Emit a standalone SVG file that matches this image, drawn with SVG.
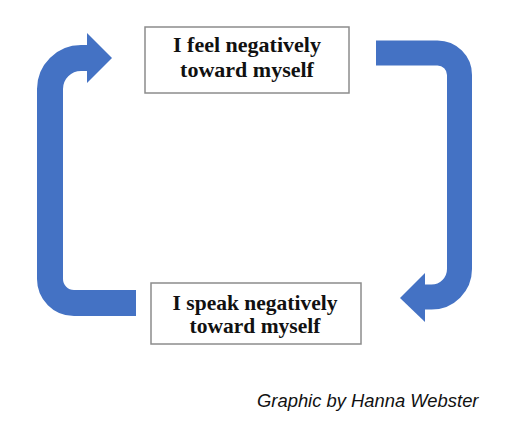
<svg xmlns="http://www.w3.org/2000/svg" width="516" height="426" viewBox="0 0 516 426">
<style>
.shaft{fill:none;stroke:#4472C4;stroke-width:26;stroke-linecap:butt;stroke-linejoin:miter}
.head{fill:#4472C4}
.box{fill:#ffffff;stroke:#8c8c8c;stroke-width:1.5}
.lbl{font-family:"Liberation Serif","Times New Roman",serif;font-weight:bold;fill:#111;text-anchor:middle}
.cap{font-family:"Liberation Sans",Arial,sans-serif;font-style:italic;font-size:18.4px;fill:#111}
</style>
<rect width="516" height="426" fill="#ffffff"/>
<g id="connectors">
  <g id="arrow-left">
    <path class="shaft" d="M136,303 H74 A24,24 0 0 1 50,279 V89 A31,31 0 0 1 81,58 H88"/>
    <polygon class="head" points="87,33 112,58 87,83"/>
  </g>
  <g id="arrow-right">
    <path class="shaft" style="stroke-width:25" d="M376,53 H437.5 A22,22 0 0 1 459.5,75 V269 A28,28 0 0 1 431.5,297 H424"/>
    <polygon class="head" points="425,273 400,298 425,322"/>
  </g>
</g>
<g id="node-feel">
  <rect class="box" x="145" y="27" width="204" height="66"/>
  <text class="lbl" x="247" y="52" font-size="22">I feel negatively</text>
  <text class="lbl" x="247" y="77" font-size="22">toward myself</text>
</g>
<g id="node-speak">
  <rect class="box" x="151" y="283" width="210" height="61"/>
  <text class="lbl" x="255" y="310" font-size="21.5">I speak negatively</text>
  <text class="lbl" x="255" y="333" font-size="21.5">toward myself</text>
</g>
<text class="cap" x="257" y="407">Graphic by Hanna Webster</text>
</svg>
